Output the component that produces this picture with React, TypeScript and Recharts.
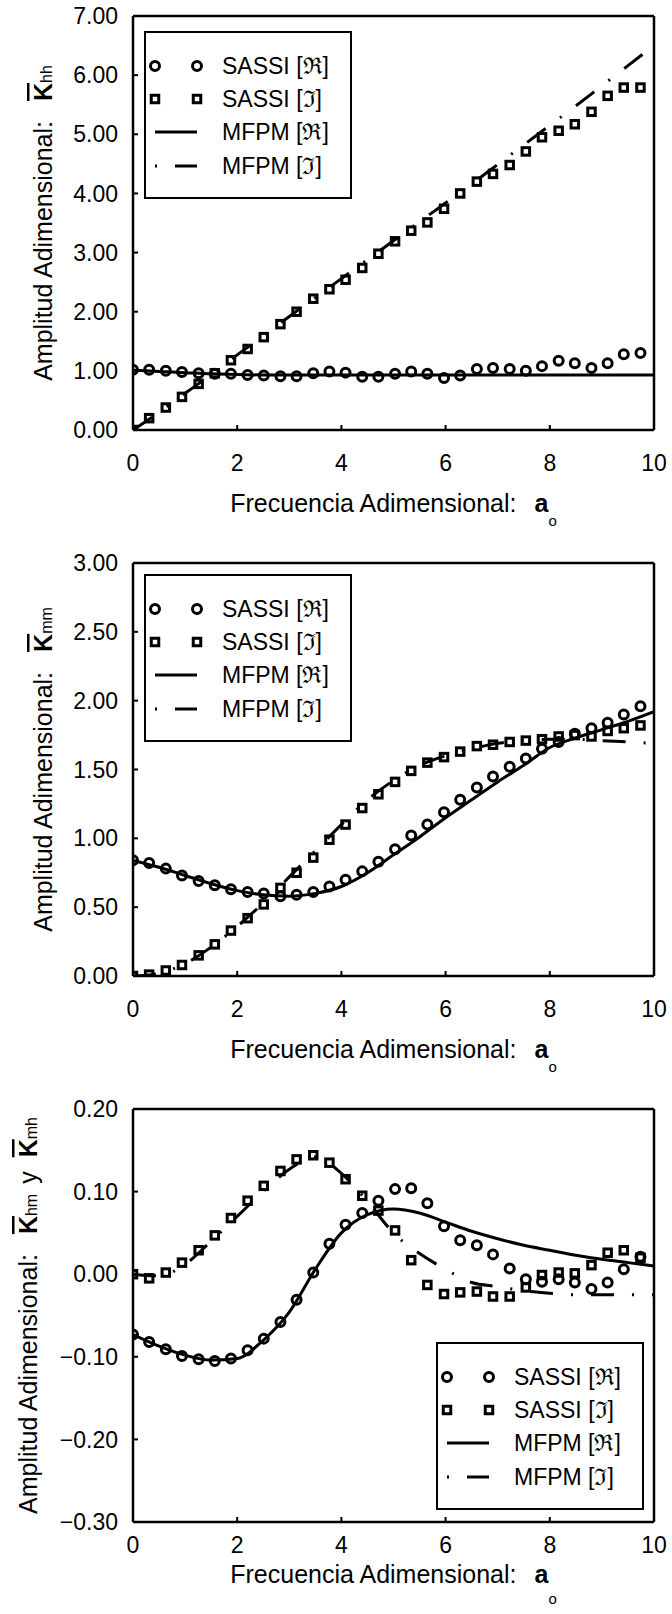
import React from 'react';
import { ComposedChart, Line, Scatter, XAxis, YAxis, Legend } from 'recharts';

const FONT = '"Liberation Sans", Arial, Helvetica, sans-serif';

// frecuencias de SASSI (a_o)
const aoSassi = [0, 0.31, 0.63, 0.94, 1.26, 1.57, 1.88, 2.2, 2.51, 2.83, 3.14, 3.46, 3.77, 4.08, 4.4, 4.71,
  5.03, 5.34, 5.65, 5.97, 6.28, 6.6, 6.91, 7.23, 7.54, 7.85, 8.17, 8.48, 8.8, 9.11, 9.42, 9.74];
// frecuencias del modelo MFPM
const aoMfpm = [0, 0.5, 1, 1.5, 2, 2.5, 3, 3.5, 4, 4.5, 5, 5.5, 6, 6.5, 7, 7.5, 8, 8.5, 9, 9.5, 10];

// K_hh
const khhSassiRe = [1.02, 1.02, 1.0, 0.98, 0.96, 0.95, 0.95, 0.93, 0.92, 0.91, 0.91, 0.96, 0.99, 0.97, 0.9, 0.9,
  0.95, 0.99, 0.95, 0.88, 0.92, 1.03, 1.05, 1.03, 1.0, 1.08, 1.17, 1.13, 1.05, 1.13, 1.28, 1.3];
const khhSassiIm = [0, 0.2, 0.38, 0.56, 0.78, 0.96, 1.18, 1.37, 1.57, 1.79, 2.0, 2.22, 2.38, 2.54, 2.74, 2.98,
  3.19, 3.37, 3.51, 3.74, 4.0, 4.2, 4.33, 4.48, 4.71, 4.95, 5.06, 5.17, 5.38, 5.65, 5.79, 5.79];
const khhMfpmRe = [1.01, 0.99, 0.97, 0.95, 0.94, 0.93, 0.93, 0.93, 0.93, 0.93, 0.93, 0.93, 0.93, 0.93, 0.93,
  0.93, 0.93, 0.93, 0.93, 0.93, 0.93];
const khhMfpmIm = [0, 0.3, 0.62, 0.94, 1.27, 1.59, 1.92, 2.24, 2.56, 2.88, 3.2, 3.52, 3.84, 4.16, 4.49, 4.82,
  5.15, 5.48, 5.82, 6.16, 6.5];

// K_mm
const kmmSassiRe = [0.84, 0.82, 0.78, 0.73, 0.69, 0.66, 0.63, 0.61, 0.6, 0.58, 0.59, 0.61, 0.65, 0.7, 0.76, 0.83,
  0.92, 1.02, 1.1, 1.19, 1.28, 1.37, 1.45, 1.52, 1.58, 1.65, 1.7, 1.76, 1.8, 1.84, 1.9, 1.96];
const kmmSassiIm = [0, 0.01, 0.04, 0.08, 0.15, 0.23, 0.33, 0.42, 0.52, 0.64, 0.75, 0.86, 0.99, 1.1, 1.22, 1.32,
  1.41, 1.49, 1.55, 1.59, 1.63, 1.67, 1.68, 1.7, 1.71, 1.72, 1.74, 1.75, 1.74, 1.78, 1.8, 1.82];
const kmmMfpmRe = [0.84, 0.79, 0.73, 0.67, 0.62, 0.59, 0.58, 0.6, 0.65, 0.75, 0.88, 1.01, 1.15, 1.28, 1.41, 1.53,
  1.66, 1.73, 1.79, 1.85, 1.92];
const kmmMfpmIm = [0, 0.02, 0.09, 0.21, 0.36, 0.53, 0.72, 0.91, 1.1, 1.28, 1.42, 1.53, 1.6, 1.65, 1.69, 1.71,
  1.72, 1.72, 1.71, 1.7, 1.69];

// K_hm y K_mh
const khmSassiRe = [-0.073, -0.082, -0.091, -0.099, -0.103, -0.105, -0.102, -0.092, -0.078, -0.058, -0.031, 0.002,
  0.037, 0.06, 0.074, 0.089, 0.103, 0.104, 0.086, 0.058, 0.041, 0.035, 0.024, 0.007, -0.006, -0.009, -0.006,
  -0.01, -0.018, -0.01, 0.006, 0.021];
const khmSassiIm = [0, -0.005, 0.002, 0.014, 0.029, 0.047, 0.068, 0.089, 0.107, 0.125, 0.139, 0.144, 0.135, 0.115,
  0.095, 0.077, 0.053, 0.017, -0.013, -0.024, -0.022, -0.021, -0.027, -0.027, -0.016, -0.001, 0.002, 0.001, 0.011,
  0.026, 0.029, 0.02];
const khmMfpmRe = [-0.073, -0.087, -0.098, -0.104, -0.102, -0.08, -0.046, 0.006, 0.05, 0.072, 0.079, 0.074, 0.063,
  0.052, 0.043, 0.035, 0.029, 0.023, 0.018, 0.014, 0.01];
const khmMfpmIm = [0, -0.002, 0.012, 0.04, 0.07, 0.1, 0.127, 0.142, 0.122, 0.088, 0.05, 0.025, 0.006, -0.01,
  -0.015, -0.02, -0.023, -0.025, -0.025, -0.025, -0.025];

const xTicks = [0, 2, 4, 6, 8, 10];
const khhTicks = [0, 1, 2, 3, 4, 5, 6, 7];
const kmmTicks = [0, 0.5, 1, 1.5, 2, 2.5, 3];
const khmTicks = [-0.3, -0.2, -0.1, 0, 0.1, 0.2];

const legendNames = ['SASSI [\u211C]', 'SASSI [\u2111]', 'MFPM [\u211C]', 'MFPM [\u2111]'];

const DASHDOT = '23 18 2 18';

const pts = (xs: number[], ys: number[]) => xs.map((x, i) => ({ x, y: ys[i] }));
const fmt = (v: number) => (v < -1e-9 ? '\u2212' : '') + Math.abs(v).toFixed(2);

const Circle = (p: any) => <circle cx={p.cx} cy={p.cy} r={4.5} fill="none" stroke="#000" strokeWidth={3} />;
const Square = (p: any) => (
  <rect x={p.cx - 3.75} y={p.cy - 3.75} width={7.5} height={7.5} fill="none" stroke="#000" strokeWidth={3} />
);

function LegendBox() {
  const rows = [35, 68, 101, 135];
  const m1 = 11;
  const m2 = 53;
  return (
    <svg width={208} height={168} style={{ display: 'block' }}>
      <rect x={1} y={1} width={206} height={166} fill="#fff" stroke="#000" strokeWidth={2} />
      <circle cx={m1} cy={rows[0]} r={4.5} fill="none" stroke="#000" strokeWidth={3} />
      <circle cx={m2} cy={rows[0]} r={4.5} fill="none" stroke="#000" strokeWidth={3} />
      <rect x={m1 - 3.75} y={rows[1] - 3.75} width={7.5} height={7.5} fill="none" stroke="#000" strokeWidth={3} />
      <rect x={m2 - 3.75} y={rows[1] - 3.75} width={7.5} height={7.5} fill="none" stroke="#000" strokeWidth={3} />
      <line x1={m1} x2={m2} y1={rows[2]} y2={rows[2]} stroke="#000" strokeWidth={3} />
      <line x1={m1} x2={m1 + 2} y1={rows[3]} y2={rows[3]} stroke="#000" strokeWidth={3} />
      <line x1={m1 + 20} x2={m2} y1={rows[3]} y2={rows[3]} stroke="#000" strokeWidth={3} />
      {legendNames.map((n, i) => (
        <text key={n} x={78} y={rows[i] + 8} fontFamily={FONT} fontSize={23} fill="#000">
          {n}
        </text>
      ))}
    </svg>
  );
}

function XTitle(props: any) {
  const { viewBox, baseline, subDy } = props;
  const cx = viewBox.x + viewBox.width / 2;
  return (
    <text x={cx} y={viewBox.y + baseline} textAnchor="middle" fontFamily={FONT} fontSize={25} fill="#000">
      Frecuencia Adimensional:
      <tspan dx={18} fontWeight="bold">a</tspan>
      <tspan fontSize={15} dy={subDy}>o</tspan>
    </text>
  );
}

function YTitle(props: any) {
  const { viewBox, baseX, subs } = props;
  const cy = viewBox.y + viewBox.height / 2;
  const kbar = (key: string, dx: number) => (
    <tspan key={key} dx={dx} fontWeight="bold" textDecoration="overline" style={{ textDecoration: 'overline' }}>
      K
    </tspan>
  );
  return (
    <text x={baseX} y={cy} transform={`rotate(-90 ${baseX} ${cy})`} textAnchor="middle"
      fontFamily={FONT} fontSize={25} fill="#000">
      Amplitud Adimensional:
      {kbar('k1', 20)}
      <tspan fontSize={16} dy={0}>{subs[0]}</tspan>
      {subs.length > 1 && <tspan dx={10} fontSize={25}>y</tspan>}
      {subs.length > 1 && kbar('k2', 14)}
      {subs.length > 1 && <tspan fontSize={16}>{subs[1]}</tspan>}
    </text>
  );
}

type PanelProps = {
  height: number;
  xAxisH: number;
  yDomain: [number, number];
  yTicks: number[];
  re: number[];
  im: number[];
  mRe: number[];
  mIm: number[];
  legend: { left: number; top: number };
  xTickMargin: number;
  xBaseline: number;
  xSubDy: number;
  yBaseX: number;
  subs: string[];
};

function Panel(p: PanelProps) {
  const axisLine = { stroke: '#000', strokeWidth: 2.5 };
  const tickLine = { stroke: '#000', strokeWidth: 2 };
  const tickStyle = { fill: '#000', fontSize: 23, fontFamily: FONT };
  return (
    <ComposedChart width={672} height={p.height} margin={{ top: 15, right: 17, bottom: 0, left: 0 }}>
      <XAxis dataKey="x" type="number" domain={[0, 10]} ticks={xTicks} interval={0} allowDataOverflow
        height={p.xAxisH} tickSize={-5} tickMargin={p.xTickMargin} axisLine={axisLine} tickLine={tickLine}
        tick={tickStyle} label={<XTitle baseline={p.xBaseline} subDy={p.xSubDy} />} />
      <XAxis xAxisId="top" orientation="top" dataKey="x" type="number" domain={[0, 10]} ticks={xTicks}
        interval={0} allowDataOverflow height={1} tickSize={-5} axisLine={axisLine} tickLine={tickLine} tick={false} />
      <YAxis dataKey="y" type="number" domain={p.yDomain} ticks={p.yTicks} interval={0} allowDataOverflow
        width={133} tickSize={-5} tickMargin={20} axisLine={axisLine} tickLine={tickLine} tick={tickStyle}
        tickFormatter={fmt} label={<YTitle baseX={p.yBaseX} subs={p.subs} />} />
      <YAxis yAxisId="right" orientation="right" dataKey="y" type="number" domain={p.yDomain} ticks={p.yTicks}
        interval={0} allowDataOverflow width={1} tickSize={-5} axisLine={axisLine} tickLine={tickLine} tick={false} />
      <Scatter data={pts(aoSassi, p.re)} dataKey="y" shape={Circle} isAnimationActive={false} />
      <Scatter data={pts(aoSassi, p.im)} dataKey="y" shape={Square} isAnimationActive={false} />
      <Line data={pts(aoMfpm, p.mRe)} dataKey="y" type="monotone" stroke="#000" strokeWidth={3}
        dot={false} activeDot={false} isAnimationActive={false} />
      <Line data={pts(aoMfpm, p.mIm)} dataKey="y" type="monotone" stroke="#000" strokeWidth={3}
        strokeDasharray={DASHDOT} dot={false} activeDot={false} isAnimationActive={false} />
      <Legend layout="vertical" align="center" verticalAlign="middle"
        wrapperStyle={{ left: p.legend.left, top: p.legend.top, width: 208, height: 168 }}
        content={() => <LegendBox />} />
    </ComposedChart>
  );
}

export default function App() {
  return (
    <div style={{ position: 'absolute', left: 0, top: 0, width: 672, height: 1614, background: '#fff' }}>
      <Panel height={547} xAxisH={117} yDomain={[0, 7]} yTicks={khhTicks}
        re={khhSassiRe} im={khhSassiIm} mRe={khhMfpmRe} mIm={khhMfpmIm}
        legend={{ left: 144, top: 31 }} xTickMargin={30} xBaseline={82} xSubDy={14} yBaseX={52} subs={['hh']} />
      <Panel height={546} xAxisH={117} yDomain={[0, 3]} yTicks={kmmTicks}
        re={kmmSassiRe} im={kmmSassiIm} mRe={kmmMfpmRe} mIm={kmmMfpmIm}
        legend={{ left: 144, top: 27 }} xTickMargin={30} xBaseline={82} xSubDy={14} yBaseX={52} subs={['mm']} />
      <Panel height={521} xAxisH={92} yDomain={[-0.3, 0.2]} yTicks={khmTicks}
        re={khmSassiRe} im={khmSassiIm} mRe={khmMfpmRe} mIm={khmMfpmIm}
        legend={{ left: 436, top: 249 }} xTickMargin={20} xBaseline={61} xSubDy={21} yBaseX={37} subs={['hm', 'mh']} />
    </div>
  );
}
